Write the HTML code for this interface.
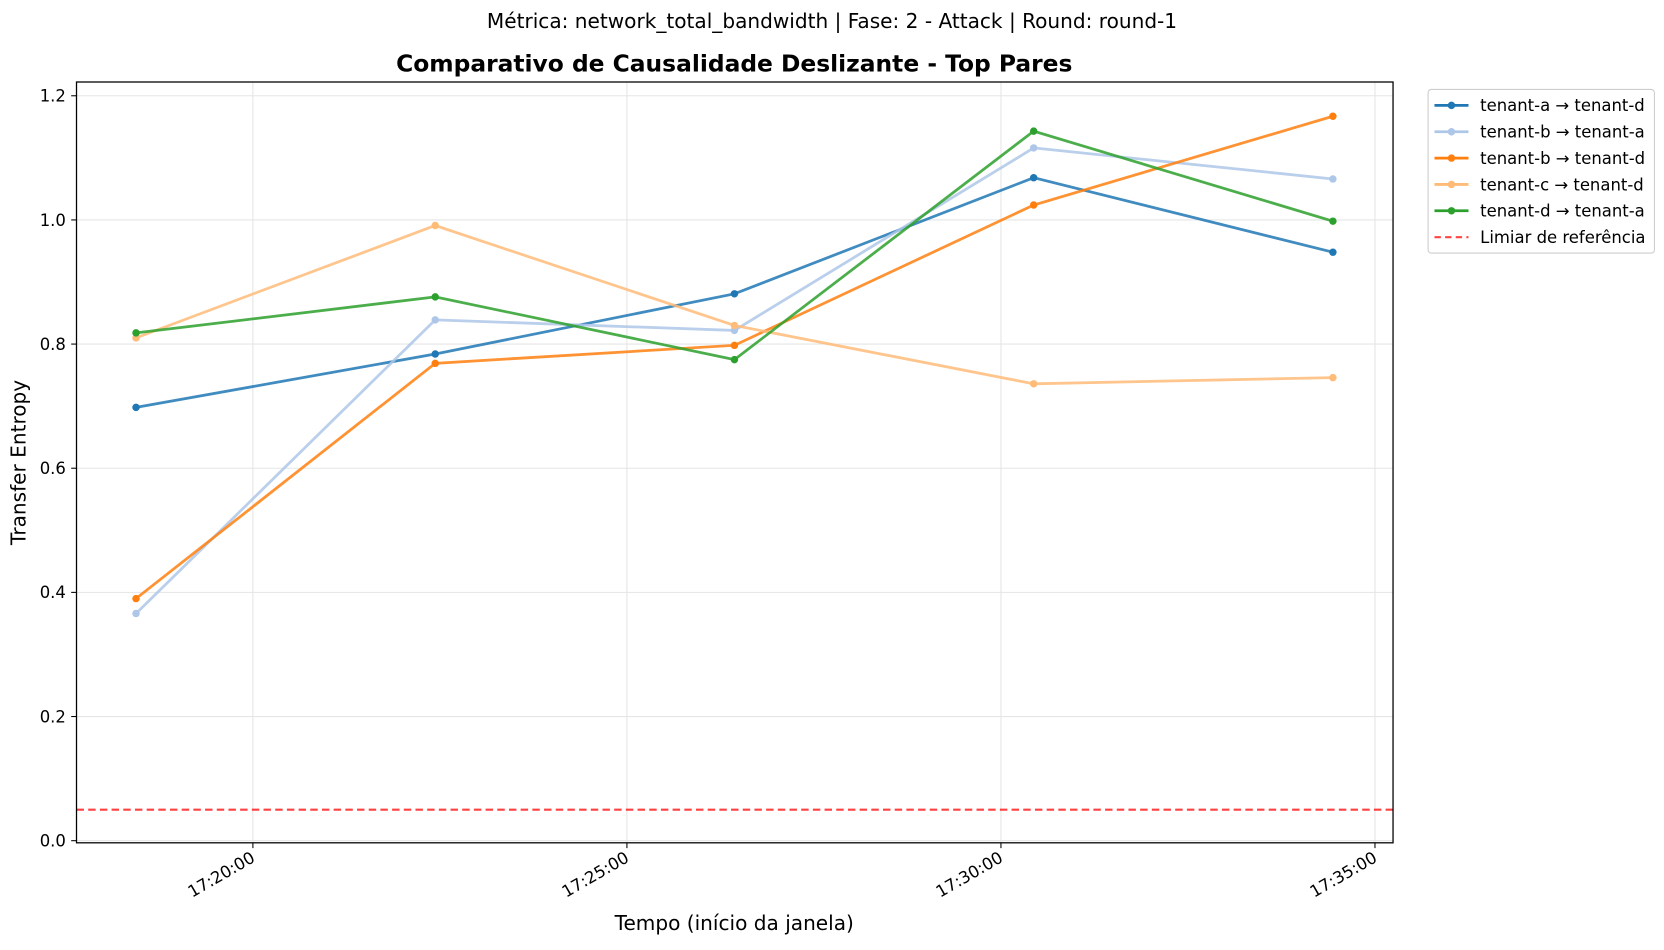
<!DOCTYPE html>
<html><head><meta charset="utf-8"><style>
body{margin:0;background:#fff;}
svg text{font-family:"DejaVu Sans","Liberation Sans",sans-serif;}
</style></head><body>
<svg id="chart" width="1664" height="945" viewBox="0 0 1566 889" xmlns="http://www.w3.org/2000/svg">
<rect width="1566" height="889" fill="#fff"/>
<text x="783" y="26" text-anchor="middle" font-size="18.9">Métrica: network_total_bandwidth | Fase: 2 - Attack | Round: round-1</text>
<text x="691" y="67" text-anchor="middle" font-size="22" font-weight="bold">Comparativo de Causalidade Deslizante - Top Pares</text>
<g id="grid"></g>
<g id="marks"></g>
<rect x="72" y="77" width="1239" height="716" fill="none" stroke="#000" stroke-width="1.2"/>
<g id="axes"></g>
<text x="24" y="435" text-anchor="middle" font-size="18.9" transform="rotate(-90 24 435)">Transfer Entropy</text>
<text x="691" y="875" text-anchor="middle" font-size="18.9">Tempo (início da janela)</text>
<g id="legend"></g>
</svg>
<script>
const times=[ -1.5625, 2.4375, 6.4375, 10.4375, 14.4375 ]; // minutes after 17:20:00
const seriesNames=["tenant-a → tenant-d","tenant-b → tenant-a","tenant-b → tenant-d","tenant-c → tenant-d","tenant-d → tenant-a"];
const sAD=[0.698,0.784,0.881,1.068,0.948];
const sBA=[0.366,0.839,0.822,1.116,1.066];
const sBD=[0.390,0.769,0.798,1.024,1.167];
const sCD=[0.810,0.991,0.830,0.736,0.746];
const sDA=[0.818,0.876,0.775,1.143,0.998];
const threshold=0.05;
const yTicks=[0,0.2,0.4,0.6,0.8,1.0,1.2];
const xTicks=[0,5,10,15];
const xTickLabels=["17:20:00","17:25:00","17:30:00","17:35:00"];
const colors=["#1f77b4","#aec7e8","#ff7f0e","#ffbb78","#2ca02c"];
const series=[sAD,sBA,sBD,sCD,sDA];
const NS="http://www.w3.org/2000/svg";
const X=m=>238+m*70.4;
const Y=v=>791-v*584.2;
function mk(t,a,p){const e=document.createElementNS(NS,t);for(const k in a)e.setAttribute(k,a[k]);p.appendChild(e);return e;}
const grid=document.getElementById('grid'),axes=document.getElementById('axes'),marks=document.getElementById('marks'),leg=document.getElementById('legend');
yTicks.forEach(v=>{
 const l=mk('line',{x1:72,x2:1311,y1:Y(v),y2:Y(v),stroke:'#e5e5e5','stroke-width':1},grid);
 
 
 mk('line',{x1:67,x2:72,y1:Y(v),y2:Y(v),stroke:'#000'},axes);
 const t=mk('text',{x:62,y:Y(v)+5.5,'text-anchor':'end','font-size':15.5},axes);t.textContent=v.toFixed(1);
 
 
});
xTicks.forEach((m,i)=>{
 const x=X(m);
 const l=mk('line',{x1:x,x2:x,y1:77,y2:793,stroke:'#e5e5e5','stroke-width':1},grid);
 
 
 mk('line',{x1:x,x2:x,y1:793,y2:798,stroke:'#000'},axes);
 const t=mk('text',{x:x+3,y:810,'text-anchor':'end','font-size':15.5,transform:`rotate(-30 ${x+3} 810)`},axes);t.textContent=xTickLabels[i];
 
 
});
const th=mk('line',{x1:72,x2:1311,y1:Y(threshold),y2:Y(threshold),stroke:'#ff0000','stroke-opacity':0.75,'stroke-width':2,'stroke-dasharray':'7,4'},marks);


series.forEach((s,i)=>{
 const pts=s.map((v,j)=>X(times[j])+','+Y(v)).join(' ');
 const pl=mk('polyline',{points:pts,fill:'none',stroke:colors[i],'stroke-width':2.6,'stroke-opacity':0.85},marks);
 
 
 s.forEach((v,j)=>{
  const c=mk('circle',{cx:X(times[j]),cy:Y(v),r:3.5,fill:colors[i]},marks);
  
  
 });
});
const lb=mk('rect',{x:1344,y:84,width:213,height:154,rx:3,fill:'#fff',stroke:'#ccc'},leg);


const labels=seriesNames.concat(["Limiar de referência"]);
labels.forEach((n,i)=>{
 const y=99+i*24.8;
 const g=mk('g',{},leg);
 
 
 if(i<5){
  mk('line',{x1:1350,x2:1382,y1:y,y2:y,stroke:colors[i],'stroke-width':2.6},g);
  mk('circle',{cx:1366,cy:y,r:3.5,fill:colors[i]},g);
 } else {
  mk('line',{x1:1350,x2:1382,y1:y,y2:y,stroke:'#ff4444','stroke-width':2,'stroke-dasharray':'6,4'},g);
 }
 const t=mk('text',{x:1393,y:y+5.5,'font-size':15.5},g);t.textContent=n;
});
</script>
</body></html>
